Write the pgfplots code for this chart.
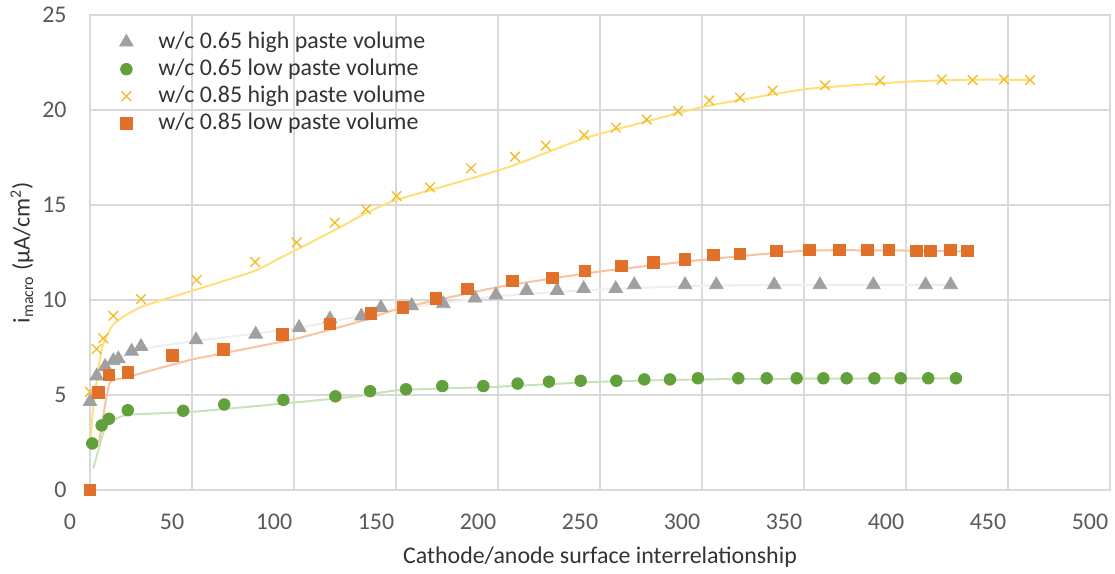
\documentclass[border=0pt]{standalone}
\usepackage{pgfplots}
\pgfplotsset{compat=1.18}
\usepackage{fontspec}
\setmainfont{Carlito}

\definecolor{gridc}{HTML}{D9D9D9}
\definecolor{tickc}{HTML}{595959}
\definecolor{textc}{HTML}{333333}
\definecolor{grayM}{HTML}{A0A0A0}
\definecolor{greenM}{HTML}{62A03C}
\definecolor{yellowM}{HTML}{F2BE2E}
\definecolor{orangeM}{HTML}{E0702A}
\definecolor{grayT}{HTML}{EEEEEE}
\definecolor{greenT}{HTML}{C9E2B8}
\definecolor{yellowT}{HTML}{FFDF7A}
\definecolor{orangeT}{HTML}{F9C3A0}

\begin{document}
\begin{tikzpicture}
\begin{axis}[
    scale only axis,
    width=510bp, height=237.5bp,
    xmin=0, xmax=500, ymin=0, ymax=25,
    xtick={0,50,...,500}, ytick={0,5,...,25},
    grid=major,
    major grid style={draw=gridc, line width=0.75bp},
    axis line style={draw=gridc, line width=0.75bp},
    major tick length=0pt,
    clip=false,
    /pgf/number format/assume math mode=true,
    tick label style={font=\fontsize{12}{14}\selectfont, text=tickc},
    xticklabel style={inner sep=0pt, anchor=center, yshift=-16bp, xshift=-10bp},
    yticklabel style={inner sep=0pt, anchor=east, xshift=-11.5bp},
    label style={font=\fontsize{12}{14}\selectfont, text=textc},
    xlabel={Cathode/anode surface interrelationship},
    xlabel style={at={(axis description cs:0.5,-0.141)}, anchor=center},
    ylabel={i\textsubscript{macro} (µA/cm\textsuperscript{2})},
    ylabel style={at={(axis description cs:-0.0667,0.5)}, anchor=center},
    legend cell align=left,
    legend image code/.code={
        \path[draw=none] (0bp,0bp) -- (17bp,0bp);
        \draw[mark repeat=2,mark phase=2] plot coordinates {(0bp,0bp)(8bp,0bp)(16bp,0bp)};},
    legend style={draw=none, fill=none, inner sep=0pt, row sep=0pt,
        font=\fontsize{12}{14}\selectfont, text=textc,
        nodes={inner xsep=7bp, inner ysep=0.75bp, text height=9bp, text depth=3bp},
        at={(axis description cs:0.0196,0.972)}, anchor=north west},
    ]

% trend lines
\addplot[grayT, line width=1bp, smooth, tension=0.4, forget plot] coordinates {
    (3,6.0)(10,6.7)(25,7.4)(52,7.85)(100,8.5)(150,9.5)(200,10.2)(250,10.55)(300,10.75)(350,10.8)(422,10.8)};
\addplot[greenT, line width=1bp, smooth, tension=0.3, forget plot] coordinates {
    (1.6,1.14)(6.5,3.0)(9,3.5)(18,3.95)(50.6,4.12)(99.7,4.6)(132,4.95)(152,5.26)(201,5.44)(250,5.7)(299,5.82)(350,5.86)(425,5.88)};
\addplot[yellowT, line width=1bp, smooth, tension=0.3, forget plot] coordinates {
    (0.3,2.5)(1.6,4.4)(5.7,7.4)(10.6,8.6)(14.7,9.0)(25.3,9.65)(50.6,10.5)(80,11.5)(93,12.2)(120,13.68)(135,14.56)(150,15.26)(187,16.4)(208,17.1)(242,18.5)(273,19.4)(302,20.2)(351,21.1)(402,21.5)(434,21.6)(462,21.58)};
\addplot[orangeT, line width=1bp, smooth, tension=0.3, forget plot] coordinates {
    (4.4,2.5)(9.5,5.6)(17,5.9)(50.6,6.88)(99.7,7.93)(132,8.86)(152,9.56)(201,10.7)(250,11.5)(299,12.1)(351,12.6)(405,12.6)(431,12.55)};

% measured points
\addplot[only marks, mark=triangle*, mark size=3.9bp, color=grayM] coordinates {
    (0,4.65)(3.3,6.0)(7.4,6.5)(11.4,6.8)(13.9,6.9)(20.4,7.3)(25,7.55)(52,7.9)(81.2,8.2)(102.5,8.55)
    (117.6,9.0)(133,9.15)(142.6,9.6)(157.7,9.7)(173.2,9.8)(188.7,10.1)(199,10.26)(214,10.5)(229,10.5)
    (242,10.6)(257.7,10.6)(266.8,10.8)(291.7,10.8)(307,10.8)(335.4,10.8)(357.8,10.8)(384,10.8)(409.6,10.8)(421.9,10.8)};
\addlegendentry{w/c 0.65 high paste volume}

\addplot[only marks, mark=*, mark size=2.9bp, color=greenM] coordinates {
    (1.1,2.45)(5.7,3.4)(9.3,3.75)(18.5,4.2)(45.7,4.17)(65.8,4.5)(94.8,4.74)(120.3,4.93)(137.3,5.2)
    (154.9,5.3)(172.7,5.47)(192.8,5.47)(209.6,5.6)(225,5.7)(240.5,5.75)(258,5.75)(271.7,5.82)(284.3,5.82)
    (298,5.88)(317.8,5.88)(331.7,5.88)(346.4,5.88)(359.5,5.88)(370.9,5.88)(384.5,5.88)(397.4,5.88)(410.9,5.88)(424.5,5.88)};
\addlegendentry{w/c 0.65 low paste volume}

\addplot[only marks, mark=x, mark size=3.4bp, color=yellowM, mark options={line width=0.7bp}] coordinates {
    (0,5.17)(3.3,7.42)(6.5,7.98)(11.4,9.17)(25,10.05)(52.3,11.05)(80.9,12.0)(101.3,13.03)(120,14.07)
    (135.3,14.77)(150.3,15.47)(166.7,15.93)(186.8,16.93)(208.3,17.54)(223.4,18.12)(242.2,18.68)(257.8,19.07)
    (272.9,19.5)(288.2,19.95)(303.6,20.5)(318.6,20.65)(334.6,21.02)(360.3,21.3)(387.3,21.54)(417.5,21.61)
    (432.7,21.58)(448,21.61)(460.8,21.58)};
\addlegendentry{w/c 0.85 high paste volume}

\addplot[only marks, mark=square*, mark size=2.9bp, color=orangeM] coordinates {
    (0,0)(4.1,5.14)(9.3,6.05)(18.5,6.2)(40.5,7.07)(65.4,7.4)(94.3,8.2)(117.6,8.75)(137.7,9.3)(153.3,9.6)
    (169.6,10.1)(185,10.58)(207,11.0)(226.8,11.17)(242.6,11.54)(260.6,11.8)(276.1,11.98)(291.7,12.15)
    (305.6,12.37)(318.6,12.42)(336.6,12.58)(352.6,12.63)(367.3,12.63)(381,12.63)(391.7,12.63)(405.2,12.58)
    (412.1,12.58)(421.9,12.63)(430,12.58)};
\addlegendentry{w/c 0.85 low paste volume}

\end{axis}
\pgfresetboundingbox
\useasboundingbox ([shift={(-45bp,-42bp)}]current axis.south west) rectangle ([shift={(2.5bp,7.5bp)}]current axis.north east);
\end{tikzpicture}
\end{document}
